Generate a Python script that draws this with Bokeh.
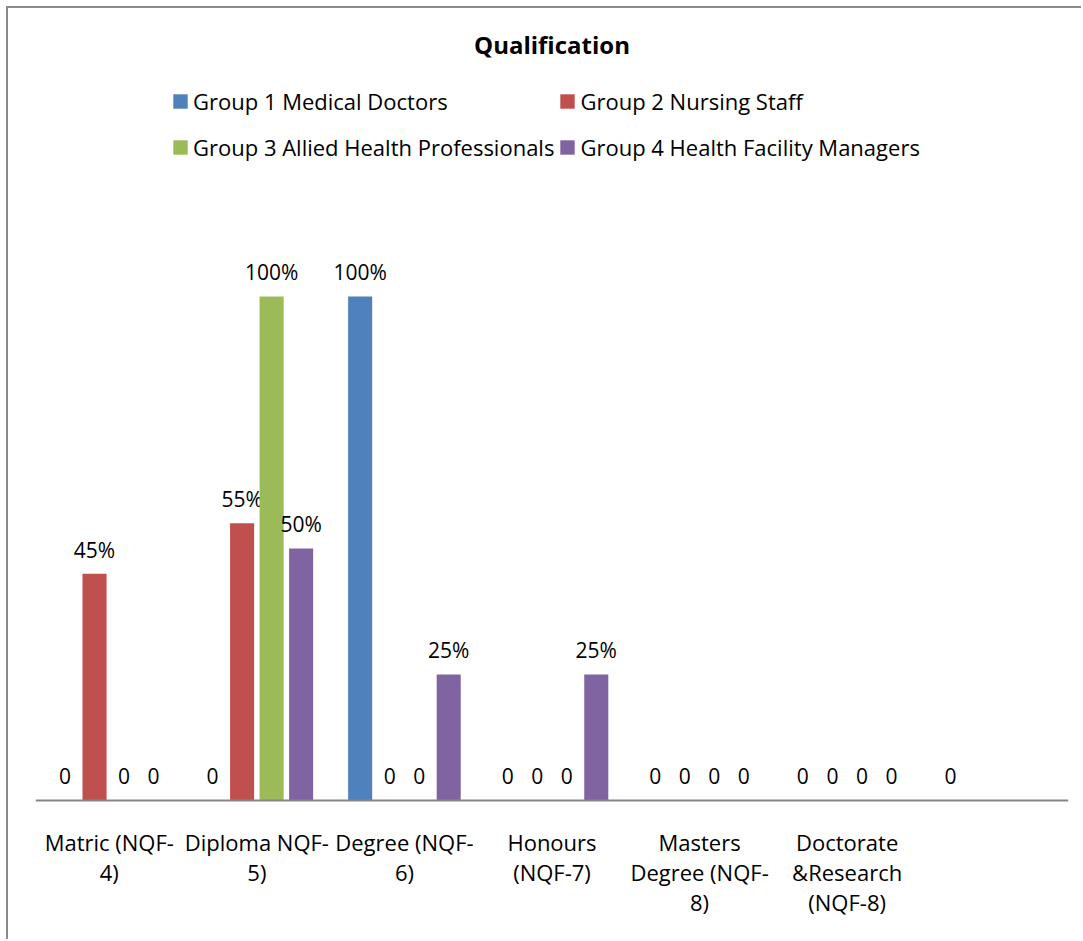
from bokeh.plotting import figure
from bokeh.models import FactorRange, Range1d, ColumnDataSource, Legend, LegendItem, Span
from bokeh.transform import dodge
from bokeh.core.properties import value
from bokeh.embed import file_html
from bokeh.resources import INLINE

# ---- data ----
categories = ["Matric (NQF-4)", "Diploma NQF-5)", "Degree (NQF-6)", "Honours (NQF-7)",
              "Masters Degree (NQF-8)", "Doctorate &Research (NQF-8)", " "]
category_labels = ["Matric (NQF-\n4)", "Diploma NQF-\n5)", "Degree (NQF-\n6)", "Honours\n(NQF-7)",
                   "Masters\nDegree (NQF-\n8)", "Doctorate\n&Research\n(NQF-8)", ""]
series_names = ["Group 1 Medical Doctors", "Group 2 Nursing Staff",
                "Group 3 Allied Health Professionals", "Group 4 Health Facility Managers"]
group1 = [0, 0, 100, 0, 0, 0, 0]
group2 = [45, 55, 0, 0, 0, 0, None]
group3 = [0, 100, 0, 0, 0, 0, None]
group4 = [0, 50, 25, 25, 0, 0, None]
series_values = [group1, group2, group3, group4]
colors = ["#4F81BD", "#C0504D", "#9BBB59", "#8064A2"]

FONT = "Open Sans"

p = figure(x_range=FactorRange(*categories, range_padding=0),
           y_range=Range1d(-27.98, 144.84),
           width=1075, height=933, output_backend="svg", toolbar_location=None,
           min_border_left=27, min_border_right=15, min_border_top=62, min_border_bottom=0,
           title="Qualification")
p.styles = {"border-left": "2px solid #898989", "border-top": "2px solid #898989",
            "margin-left": "6px", "margin-top": "6px"}

p.title.align = "center"
p.title.text_font = FONT
p.title.text_font_size = "24px"
p.title.text_font_style = "bold"
p.title.text_color = "black"
p.title.standoff = 20

p.outline_line_color = None
p.xgrid.visible = False
p.ygrid.visible = False
p.xaxis.visible = False
p.yaxis.visible = False

# category axis line
p.add_layout(Span(location=0, dimension="width", line_color="#868686", line_width=2))

# category labels under the axis line
cat_src = ColumnDataSource(dict(x=categories, y=[0] * len(categories), label=category_labels))
p.text(x="x", y="y", text="label", source=cat_src, text_align="center", text_baseline="top",
       y_offset=27, text_line_height=1.0, text_font=value(FONT), text_font_size="22px",
       text_color="black")

offsets = [-0.3, -0.1, 0.1, 0.3]
items = []
for name, vals, col, off in zip(series_names, series_values, colors, offsets):
    xs = [c for c, v in zip(categories, vals) if v is not None]
    ys = [v for v in vals if v is not None]
    labels = [f"{v}%" if v > 0 else "0" for v in ys]
    src = ColumnDataSource(dict(x=xs, y=ys, label=labels))
    r = p.vbar(x=dodge("x", off, range=p.x_range), top="y", width=0.163, source=src,
               fill_color=col, line_color=None)
    p.text(x=dodge("x", off, range=p.x_range), y="y", text="label", source=src,
           text_align="center", text_baseline="alphabetic", y_offset=-24,
           text_font=value(FONT), text_font_size="21px", text_color="black")
    items.append(LegendItem(label=name, renderers=[r]))

legend = Legend(items=items, orientation="horizontal", ncols=2, location=(136, 773),
                glyph_width=18, glyph_height=18, label_standoff=4, spacing=4, label_height=42,
                padding=0, margin=0, border_line_color=None, background_fill_alpha=0,
                label_text_font=FONT, label_text_font_size="22px", label_text_color="black")
p.add_layout(legend, "center")

open("out.html", "w").write(file_html(p, INLINE))
